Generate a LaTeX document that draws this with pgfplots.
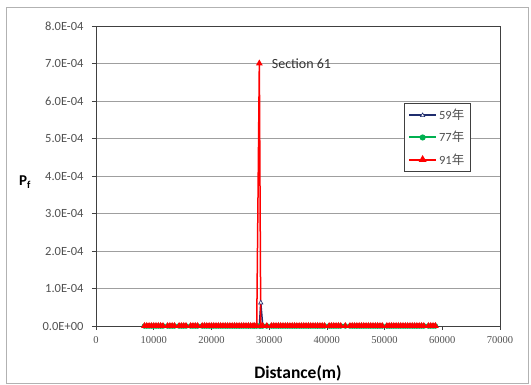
\documentclass[border=0pt]{standalone}
\usepackage{fontspec}
\setmainfont{Carlito}
\newfontfamily\cjk{Noto Sans CJK TC}
\newfontfamily\serifx{Liberation Serif}
\usepackage{pgfplots}
\pgfplotsset{compat=1.18}
\usepackage{pgfplotstable}
\definecolor{navy}{RGB}{31,45,110}
\definecolor{xlgreen}{RGB}{0,176,80}
\definecolor{xlred}{RGB}{255,0,0}
\definecolor{axgray}{RGB}{64,64,64}
\definecolor{txtgray}{RGB}{80,80,80}

\pgfplotstableread{
x a b c
8400 0 0 0
8800 0 0 0
9200 0 0 0
9600 0 0 0
10000 0 0 0
10400 0 0 0
10800 0 0 0
11200 0 0 0
11600 0 0 0
12400 0 0 0
12800 0 0 0
13200 0 0 0
13600 0 0 0
14400 0 0 0
14800 0 0 0
15200 0 0 0
15600 0 0 0
16400 0 0 0
16800 0 0 0
17200 0 0 0
17600 0 0 0
18400 0 0 0
18800 0 0 0
19200 0 0 0
19600 0 0 0
20000 0 0 0
20400 0 0 0
20800 0 0 0
21200 0 0 0
21600 0 0 0
22000 0 0 0
22400 0 0 0
22800 0 0 0
23200 0 0 0
23600 0 0 0
24000 0 0 0
24400 0 0 0
24800 0 0 0
25200 0 0 0
25600 0 0 0
26000 0 0 0
26400 0 0 0
26800 0 0 0
27200 0 0 0
27500 0 0 0
27850 0 0 0
28300 0 0 0.0007
28550 0.000062 0 0
28900 0 0 0
29600 0 0 0
30400 0 0 0
30800 0 0 0
31200 0 0 0
31600 0 0 0
32000 0 0 0
32400 0 0 0
32800 0 0 0
33200 0 0 0
33600 0 0 0
34000 0 0 0
34400 0 0 0
34800 0 0 0
35200 0 0 0
35600 0 0 0
36000 0 0 0
36400 0 0 0
36800 0 0 0
37200 0 0 0
37600 0 0 0
38000 0 0 0
38400 0 0 0
38800 0 0 0
39200 0 0 0
39600 0 0 0
40400 0 0 0
40800 0 0 0
41200 0 0 0
41600 0 0 0
42000 0 0 0
42400 0 0 0
43200 0 0 0
44000 0 0 0
44400 0 0 0
44800 0 0 0
45200 0 0 0
45600 0 0 0
46000 0 0 0
46400 0 0 0
46800 0 0 0
47200 0 0 0
47600 0 0 0
48000 0 0 0
48400 0 0 0
48800 0 0 0
49200 0 0 0
49600 0 0 0
50400 0 0 0
50800 0 0 0
51200 0 0 0
51600 0 0 0
52000 0 0 0
52400 0 0 0
52800 0 0 0
53200 0 0 0
53600 0 0 0
54000 0 0 0
54400 0 0 0
54800 0 0 0
55200 0 0 0
55600 0 0 0
56000 0 0 0
56400 0 0 0
56800 0 0 0
57600 0 0 0
58000 0 0 0
58400 0 0 0
58800 0 0 0
}\datatable

\begin{document}
\begin{tikzpicture}[x=1pt,y=1pt]
\path[use as bounding box] (-96,-59) rectangle (435,326);
\draw[gray!60, line width=0.8pt] (-90,-57) rectangle (432,319);
\begin{axis}[
  at={(0,0)}, anchor=south west,
  scale only axis, width=404pt, height=300pt,
  xmin=0, xmax=70000, ymin=0, ymax=0.0008,
  scaled ticks=false,
  xtick={0,10000,20000,30000,40000,50000,60000,70000},
  xticklabels={0,10000,20000,30000,40000,50000,60000,70000},
  ytick={0,0.0001,0.0002,0.0003,0.0004,0.0005,0.0006,0.0007,0.0008},
  yticklabels={0.0E+00,1.0E-04,2.0E-04,3.0E-04,4.0E-04,5.0E-04,6.0E-04,7.0E-04,8.0E-04},
  tick pos=left, tick align=outside, major tick length=4pt,
  tick style={axgray, line width=0.6pt},
  axis line style={axgray, line width=0.8pt},
  ymajorgrids, major grid style={gray!75, line width=0.8pt},
  xticklabel style={font=\serifx\fontsize{10.5}{12}\selectfont, text=txtgray, yshift=-3pt},
  yticklabel style={font=\fontsize{12.5}{14}\selectfont, text=txtgray, xshift=-5pt},
  xlabel={Distance(m)},
  xlabel style={at={(axis description cs:0.5,0)}, anchor=center, yshift=-47pt,
    font=\bfseries\fontsize{17.5}{20}\selectfont},
  ylabel={P\textsubscript{f}},
  ylabel style={rotate=-90, at={(axis description cs:0,0.48)}, anchor=center, xshift=-71pt,
    font=\bfseries\fontsize{15}{17}\selectfont},
  legend style={at={(rel axis cs:0.762,0.743)}, anchor=north west,
    draw=axgray, line width=0.6pt, fill=white,
    font=\fontsize{12.5}{14}\selectfont, text=txtgray,
    row sep=6pt, inner xsep=4pt, inner ysep=4pt},
  legend cell align=left,
  legend image code/.code={\draw[mark repeat=2,mark phase=2, line width=2pt] plot coordinates {(0pt,0pt) (13.5pt,0pt) (27pt,0pt)};},
]
\addplot[navy, line width=1.5pt, mark=triangle*, mark size=2.5pt, mark options={fill=white, line width=0.6pt}] table[x=x,y=a]{\datatable};
\addlegendentry{59{\cjk 年}}
\addplot[xlgreen, line width=1.5pt, mark=*, mark size=2pt] table[x=x,y=b]{\datatable};
\addlegendentry{77{\cjk 年}}
\addplot[xlred, line width=1.5pt, mark=triangle*, mark size=2.5pt] table[x=x,y=c]{\datatable};
\addlegendentry{91{\cjk 年}}
\node[anchor=west, font=\fontsize{14}{16}\selectfont, text=black!80, xshift=9pt] at (axis cs:28300,0.0007) {Section 61};
\end{axis}
\end{tikzpicture}
\end{document}
